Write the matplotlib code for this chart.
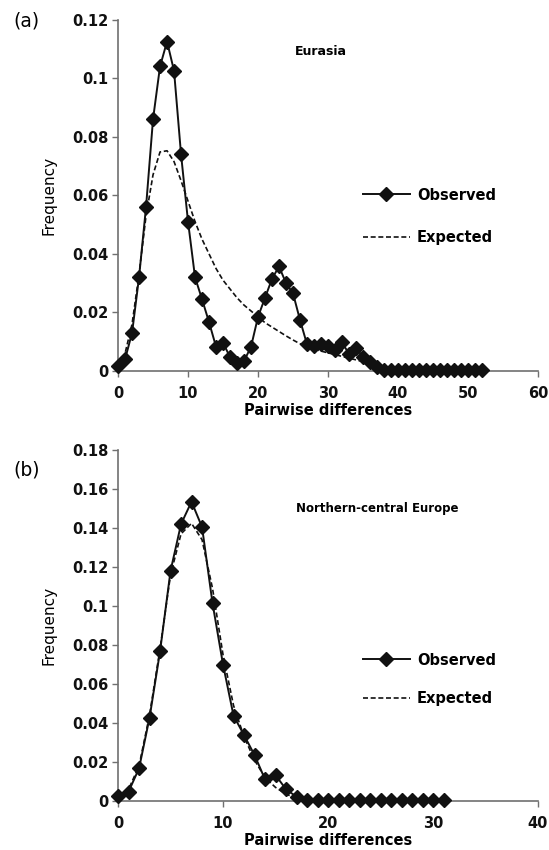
import matplotlib

matplotlib.use("Agg")
import matplotlib.pyplot as plt
import numpy as np

# --- panel (a): Eurasia -------------------------------------------------------
a_obs_x = np.arange(0, 53)
a_obs_y = [0.0018, 0.004, 0.013, 0.032, 0.056, 0.086, 0.104, 0.1125, 0.1025, 0.074,
           0.051, 0.032, 0.0245, 0.0167, 0.0083, 0.0097, 0.0047, 0.0026, 0.0034, 0.0083,
           0.0185, 0.025, 0.0315, 0.0357, 0.030, 0.0265, 0.0174, 0.0091, 0.0086, 0.0091,
           0.0086, 0.0072, 0.0098, 0.0058, 0.0077, 0.0049, 0.003, 0.0015, 0.0003, 0.0002,
           0.0002, 0.0002, 0.0002, 0.0002, 0.0002, 0.0002, 0.0002, 0.0002, 0.0002, 0.0002,
           0.0002, 0.0002, 0.0002]
a_exp_x = np.arange(0, 41)
a_exp_y = [0.002, 0.006, 0.016, 0.033, 0.053, 0.067, 0.0748, 0.0752, 0.0715, 0.065,
           0.058, 0.051, 0.045, 0.040, 0.035, 0.031, 0.028, 0.025, 0.0225, 0.0205,
           0.0185, 0.0165, 0.015, 0.0135, 0.012, 0.0106, 0.0093, 0.0083, 0.0075, 0.0068,
           0.0062, 0.0056, 0.005, 0.0044, 0.0038, 0.0032, 0.0026, 0.0018, 0.001, 0.0005,
           0.0002]

# --- panel (b): Northern-central Europe --------------------------------------
b_obs_x = np.arange(0, 32)
b_obs_y = [0.0027, 0.0048, 0.0167, 0.0427, 0.0767, 0.118, 0.142, 0.1535, 0.1405, 0.1014,
           0.070, 0.0438, 0.0338, 0.0236, 0.0111, 0.0133, 0.006, 0.0022, 0.0003, 0.0003,
           0.0003, 0.0003, 0.0003, 0.0003, 0.0003, 0.0003, 0.0003, 0.0003, 0.0003, 0.0003,
           0.0003, 0.0003]
b_exp_x = np.arange(0, 21)
b_exp_y = [0.002, 0.006, 0.018, 0.044, 0.078, 0.116, 0.137, 0.1424, 0.134, 0.109,
           0.075, 0.049, 0.033, 0.021, 0.012, 0.007, 0.0035, 0.0015, 0.0005, 0.0002,
           0.0]

INK = "#111111"
AXIS = "#707070"

plt.rcParams.update({
    "font.family": ["DejaVu Sans"],
    "font.size": 10.5,
    "axes.linewidth": 1.2,
    "axes.edgecolor": AXIS,
    "xtick.color": AXIS, "ytick.color": AXIS,
    "xtick.labelcolor": INK, "ytick.labelcolor": INK,
    "xtick.major.size": 4.5, "ytick.major.size": 4,
    "xtick.major.width": 1.0, "ytick.major.width": 1.0,
})

fig = plt.figure(figsize=(5.49, 8.5), dpi=100)
ax_a = fig.add_axes([0.215, 0.5635, 0.765, 0.4135])
ax_b = fig.add_axes([0.215, 0.0576, 0.765, 0.4130])


def style(ax, xmax, xstep, ymax, ystep):
    for s in ("top", "right"):
        ax.spines[s].set_visible(False)
    ax.set_xlim(0, xmax)
    ax.set_ylim(0, ymax)
    ax.set_xticks(np.arange(0, xmax + 1, xstep))
    yt = np.round(np.arange(0, ymax + ystep / 2, ystep), 3)
    ax.set_yticks(yt)
    ax.set_yticklabels(["0" if v == 0 else f"{v:g}" for v in yt])
    for lab in ax.get_xticklabels() + ax.get_yticklabels():
        lab.set_fontweight("bold")
        lab.set_fontsize(10.5)
    ax.tick_params(axis="y", pad=3)
    ax.tick_params(axis="x", pad=6)
    ax.set_xlabel("Pairwise differences", fontweight="bold", fontsize=10.5, labelpad=1.5)
    ax.set_ylabel("Frequency", fontsize=11, labelpad=11)


def draw(ax, ox, oy, ex, ey):
    ax.plot(ox, oy, color=INK, lw=1.4, marker="D", ms=6.8, mfc=INK, mec=INK,
            label="Observed", clip_on=False, zorder=3)
    ax.plot(ex, ey, color=INK, lw=1.2, ls=(0, (3, 1.6)), label="Expected", zorder=2)


draw(ax_a, a_obs_x, a_obs_y, a_exp_x, a_exp_y)
style(ax_a, 60, 10, 0.12, 0.02)
ax_a.text(29, 0.109, "Eurasia", ha="center", va="center", fontweight="bold", fontsize=9)
ax_a.legend(loc="upper left", bbox_to_anchor=(0.583, 0.522), frameon=False,
            borderpad=0, borderaxespad=0, handlelength=3.2, handletextpad=0.5,
            labelspacing=1.9, prop=dict(weight="bold", size=10.5))

draw(ax_b, b_obs_x, b_obs_y, b_exp_x, b_exp_y)
style(ax_b, 40, 10, 0.18, 0.02)
ax_b.text(24.7, 0.150, "Northern-central Europe", ha="center", va="center",
          fontweight="bold", fontsize=8.5)
ax_b.legend(loc="upper left", bbox_to_anchor=(0.583, 0.423), frameon=False,
            borderpad=0, borderaxespad=0, handlelength=3.2, handletextpad=0.5,
            labelspacing=1.6, prop=dict(weight="bold", size=10.5))

fig.text(0.025, 0.975, "(a)", fontsize=13.5, va="center", ha="left")
fig.text(0.025, 0.447, "(b)", fontsize=13.5, va="center", ha="left")

fig.savefig("out.png", dpi=100)
